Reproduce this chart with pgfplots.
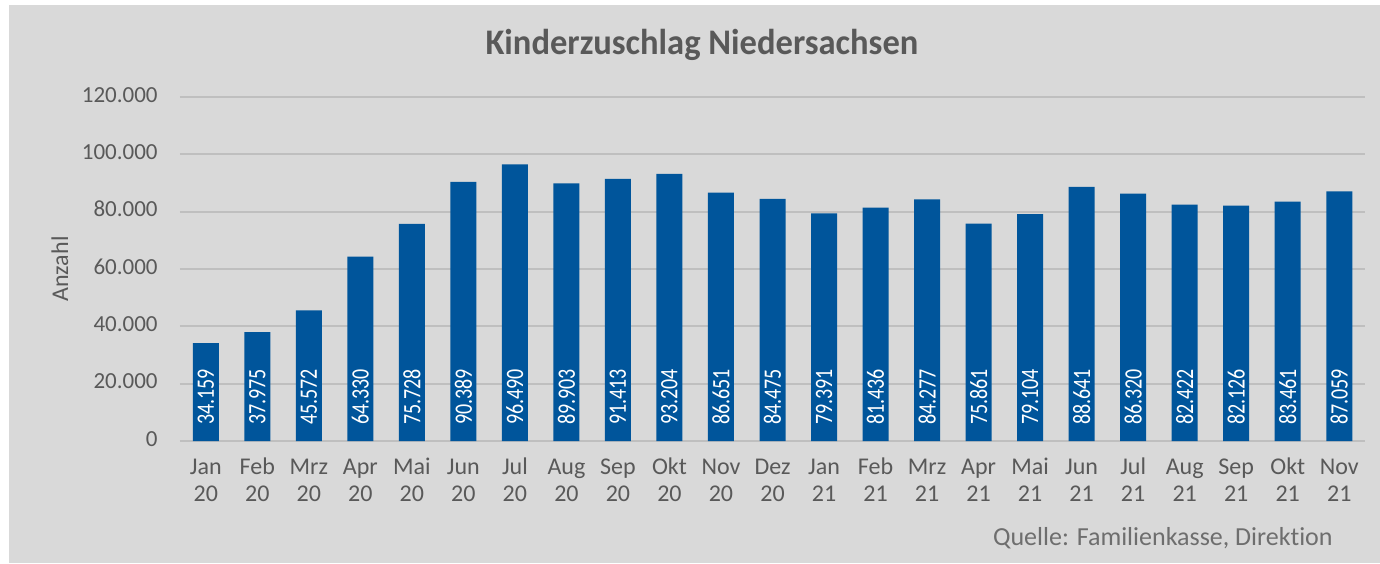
\documentclass[border=0pt]{standalone}
\usepackage{pgfplots}
\pgfplotsset{compat=1.18}
\usepackage{fontspec}
\setmainfont{Carlito}[Ligatures=NoCommon]
\newfontfamily\condfont[FakeStretch=0.8]{Carlito}
\newfontfamily\titlefont[FakeStretch=0.96]{Carlito}
\usetikzlibrary{backgrounds}
\definecolor{bg}{HTML}{D9D9D9}
\definecolor{barblue}{HTML}{00559B}
\definecolor{txt}{HTML}{595959}
\definecolor{src}{HTML}{6E6E6E}
\definecolor{gridc}{HTML}{BFBFBF}

\begin{document}
\begin{tikzpicture}
\begin{axis}[
    scale only axis,
    width=592.5pt, height=172pt,
    xmin=-0.5, xmax=22.5,
    ymin=0, ymax=120000,
    ytick={0,20000,...,120000},
    scaled y ticks=false,
    /pgf/number format/fixed,
    /pgf/number format/precision=0,
    /pgf/number format/1000 sep={.},
    /pgf/number format/assume math mode=true,
    xtick=data,
    typeset ticklabels with strut,
    xticklabels={{Jan\\20},{Feb\\20},{Mrz\\20},{Apr\\20},{Mai\\20},{Jun\\20},{Jul\\20},{Aug\\20},{Sep\\20},{Okt\\20},{Nov\\20},{Dez\\20},{Jan\\21},{Feb\\21},{Mrz\\21},{Apr\\21},{Mai\\21},{Jun\\21},{Jul\\21},{Aug\\21},{Sep\\21},{Okt\\21},{Nov\\21}},
    xticklabel style={align=center, anchor=north, inner sep=0pt, yshift=-7pt, text=txt, font=\fontsize{12}{13.5}\selectfont},
    yticklabel style={anchor=east, inner sep=0pt, xshift=-11pt, text=txt, font=\fontsize{11.5}{13}\selectfont},
    axis line style={draw=none},
    major tick length=0pt,
    ymajorgrids,
    grid style={gridc, line width=1pt},
    ybar, bar width=13pt,
    nodes near coords,
    visualization depends on={y \as \rawy},
    every node near coord/.append style={shift={(axis direction cs:0,-\rawy)}, yshift=8pt, rotate=90, anchor=west, inner sep=0pt, text=white, font=\condfont\fontsize{12.5}{14}\selectfont},
]
\addplot[fill=barblue, draw=none] coordinates {
    (0,34159) (1,37975) (2,45572) (3,64330) (4,75728) (5,90389)
    (6,96490) (7,89903) (8,91413) (9,93204) (10,86651) (11,84475)
    (12,79391) (13,81436) (14,84277) (15,75861) (16,79104) (17,88641)
    (18,86320) (19,82422) (20,82126) (21,83461) (22,87059)
};
\coordinate (o) at (rel axis cs:0,0);
\end{axis}
\node[text=txt, font=\titlefont\fontsize{18}{21}\selectfont\bfseries] at ([shift={(261pt,198pt)}]o) {Kinderzuschlag Niedersachsen};
\node[rotate=90, text=txt, font=\fontsize{12}{14}\selectfont] at ([shift={(-60pt,86pt)}]o) {Anzahl};
\node[anchor=east, inner sep=0pt, text=src, font=\fontsize{13}{15}\selectfont] at ([shift={(576.5pt,-48.5pt)}]o) {Quelle: Familienkasse, Direktion};
\begin{scope}[on background layer]
\fill[white] ([shift={(-90pt,-61pt)}]o) rectangle ([shift={(600pt,220.5pt)}]o);
\fill[bg] ([shift={(-85.5pt,-61pt)}]o) rectangle ([shift={(600pt,218pt)}]o);
\end{scope}
\pgfresetboundingbox
\path[use as bounding box] ([shift={(-90pt,-61pt)}]o) rectangle ([shift={(600pt,220.5pt)}]o);
\end{tikzpicture}
\end{document}
